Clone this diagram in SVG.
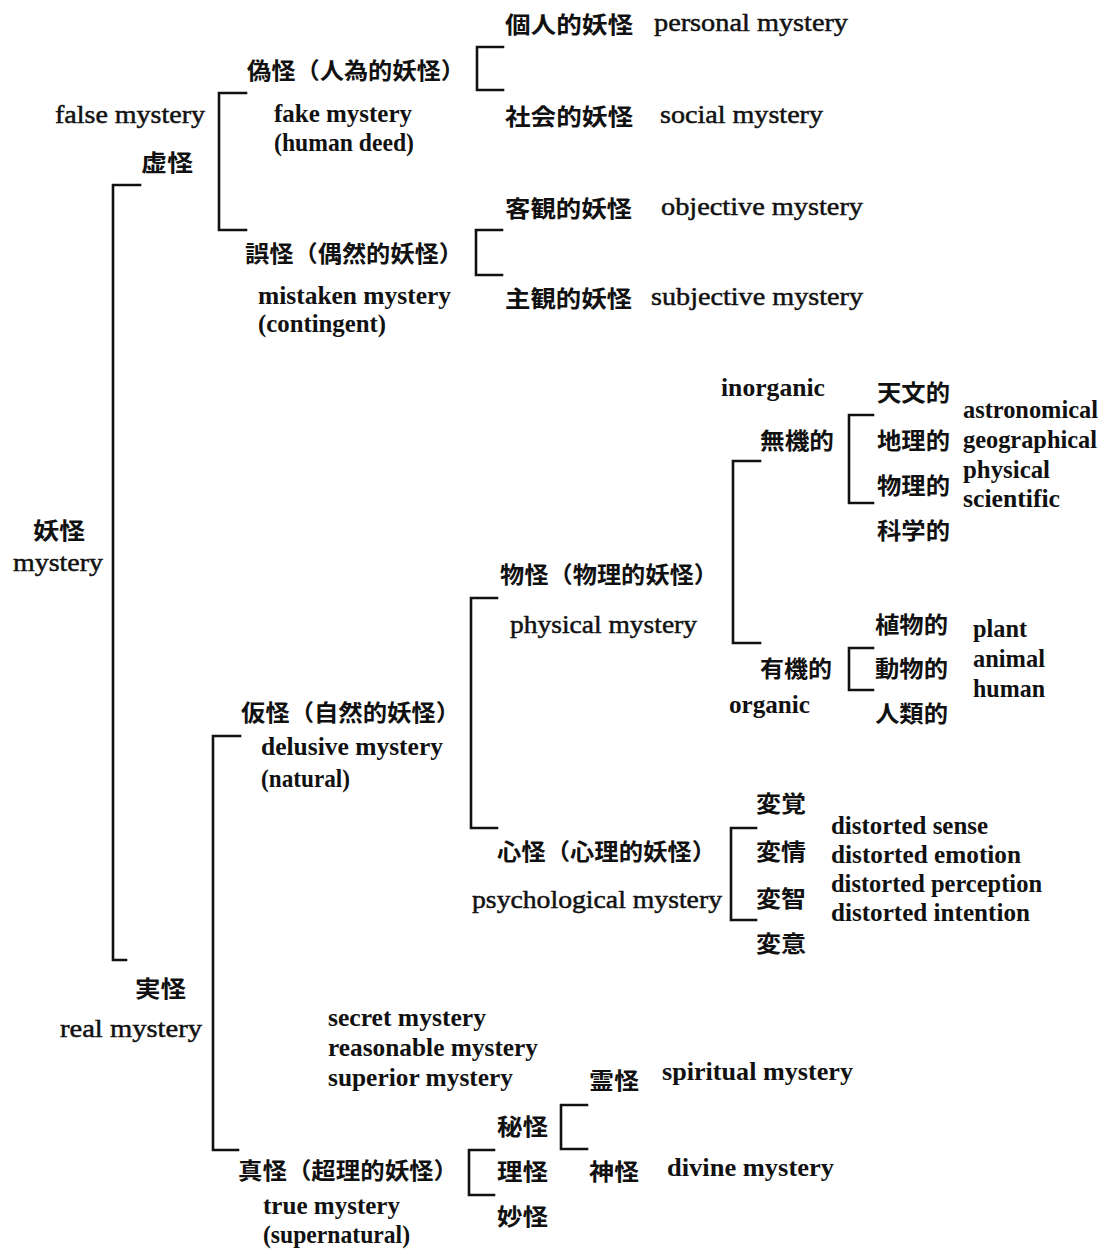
<svg xmlns="http://www.w3.org/2000/svg" width="1103" height="1250" viewBox="0 0 1103 1250">
<style>
.bg{fill:#ffffff}
.br{fill:none;stroke:#111;stroke-width:2.6;stroke-linejoin:miter;stroke-linecap:square}
.en{font-family:"Liberation Serif","Times New Roman",serif;font-size:26px;fill:#111;stroke:#111;stroke-width:0.5}
.enb{font-family:"Liberation Serif","Times New Roman",serif;font-size:25px;font-weight:bold;fill:#111}
.cj{font-family:"Noto Sans CJK JP","Noto Sans CJK SC",sans-serif;font-size:23px;font-weight:bold;fill:#111}
</style>
<rect class="bg" x="0" y="0" width="1103" height="1250"/>
<g id="connectors">
<path class="br" d="M140,185 H113 V960 H126"/>
<path class="br" d="M246,93 H219 V230 H246"/>
<path class="br" d="M503,47 H477 V90 H503"/>
<path class="br" d="M502,230 H476 V275 H502"/>
<path class="br" d="M240,736 H213 V1150 H238"/>
<path class="br" d="M497,598 H471 V828 H497"/>
<path class="br" d="M760,461 H733 V643 H760"/>
<path class="br" d="M873,415 H849 V503 H873"/>
<path class="br" d="M873,648 H849 V690 H873"/>
<path class="br" d="M756,828 H731 V920 H756"/>
<path class="br" d="M494,1150 H469 V1195 H494"/>
<path class="br" d="M587,1105 H561 V1149 H587"/>
</g>
<g id="n-root"><text class="cj" x="33" y="539" textLength="52" lengthAdjust="spacingAndGlyphs">妖怪</text><text class="en" x="13" y="571" textLength="90" lengthAdjust="spacingAndGlyphs">mystery</text></g>
<g id="n-false"><text class="en" x="55" y="123" textLength="150" lengthAdjust="spacingAndGlyphs">false mystery</text><text class="cj" x="141" y="171" textLength="52" lengthAdjust="spacingAndGlyphs">虚怪</text></g>
<g id="n-fake"><text class="cj" x="247" y="79" textLength="218" lengthAdjust="spacingAndGlyphs">偽怪（人為的妖怪）</text><text class="enb" x="274" y="122" textLength="138" lengthAdjust="spacingAndGlyphs">fake mystery</text><text class="enb" x="274" y="151" textLength="140" lengthAdjust="spacingAndGlyphs">(human deed)</text></g>
<g id="n-personal"><text class="cj" x="505" y="33" textLength="128" lengthAdjust="spacingAndGlyphs">個人的妖怪</text><text class="en" x="654" y="31" textLength="194" lengthAdjust="spacingAndGlyphs">personal mystery</text></g>
<g id="n-social"><text class="cj" x="505" y="125" textLength="128" lengthAdjust="spacingAndGlyphs">社会的妖怪</text><text class="en" x="660" y="123" textLength="163" lengthAdjust="spacingAndGlyphs">social mystery</text></g>
<g id="n-mistaken"><text class="cj" x="245" y="262" textLength="218" lengthAdjust="spacingAndGlyphs">誤怪（偶然的妖怪）</text><text class="enb" x="258" y="304" textLength="193" lengthAdjust="spacingAndGlyphs">mistaken mystery</text><text class="enb" x="258" y="332" textLength="128" lengthAdjust="spacingAndGlyphs">(contingent)</text></g>
<g id="n-objective"><text class="cj" x="505" y="217" textLength="127" lengthAdjust="spacingAndGlyphs">客観的妖怪</text><text class="en" x="661" y="215" textLength="202" lengthAdjust="spacingAndGlyphs">objective mystery</text></g>
<g id="n-subjective"><text class="cj" x="505" y="307" textLength="127" lengthAdjust="spacingAndGlyphs">主観的妖怪</text><text class="en" x="651" y="305" textLength="212" lengthAdjust="spacingAndGlyphs">subjective mystery</text></g>
<g id="n-real"><text class="cj" x="135" y="997" textLength="51" lengthAdjust="spacingAndGlyphs">実怪</text><text class="en" x="60" y="1037" textLength="142" lengthAdjust="spacingAndGlyphs">real mystery</text></g>
<g id="n-delusive"><text class="cj" x="241" y="721" textLength="219" lengthAdjust="spacingAndGlyphs">仮怪（自然的妖怪）</text><text class="enb" x="261" y="755" textLength="182" lengthAdjust="spacingAndGlyphs">delusive mystery</text><text class="enb" x="261" y="787" textLength="89" lengthAdjust="spacingAndGlyphs">(natural)</text></g>
<g id="n-physical"><text class="cj" x="500" y="583" textLength="218" lengthAdjust="spacingAndGlyphs">物怪（物理的妖怪）</text><text class="en" x="510" y="633" textLength="187" lengthAdjust="spacingAndGlyphs">physical mystery</text></g>
<g id="n-inorganic"><text class="enb" x="721" y="396" textLength="104" lengthAdjust="spacingAndGlyphs">inorganic</text><text class="cj" x="760" y="449" textLength="74" lengthAdjust="spacingAndGlyphs">無機的</text></g>
<g id="n-inorg-items"><text class="cj" x="877" y="401" textLength="73" lengthAdjust="spacingAndGlyphs">天文的</text><text class="cj" x="877" y="449" textLength="73" lengthAdjust="spacingAndGlyphs">地理的</text><text class="cj" x="877" y="494" textLength="73" lengthAdjust="spacingAndGlyphs">物理的</text><text class="cj" x="877" y="539" textLength="73" lengthAdjust="spacingAndGlyphs">科学的</text><text class="enb" x="963" y="418" textLength="135" lengthAdjust="spacingAndGlyphs">astronomical</text><text class="enb" x="963" y="448" textLength="134" lengthAdjust="spacingAndGlyphs">geographical</text><text class="enb" x="963" y="478" textLength="87" lengthAdjust="spacingAndGlyphs">physical</text><text class="enb" x="963" y="507" textLength="97" lengthAdjust="spacingAndGlyphs">scientific</text></g>
<g id="n-organic"><text class="cj" x="760" y="677" textLength="72" lengthAdjust="spacingAndGlyphs">有機的</text><text class="enb" x="729" y="713" textLength="81" lengthAdjust="spacingAndGlyphs">organic</text></g>
<g id="n-org-items"><text class="cj" x="875" y="633" textLength="73" lengthAdjust="spacingAndGlyphs">植物的</text><text class="cj" x="875" y="677" textLength="73" lengthAdjust="spacingAndGlyphs">動物的</text><text class="cj" x="875" y="722" textLength="73" lengthAdjust="spacingAndGlyphs">人類的</text><text class="enb" x="973" y="637" textLength="54" lengthAdjust="spacingAndGlyphs">plant</text><text class="enb" x="973" y="667" textLength="72" lengthAdjust="spacingAndGlyphs">animal</text><text class="enb" x="973" y="697" textLength="72" lengthAdjust="spacingAndGlyphs">human</text></g>
<g id="n-psych"><text class="cj" x="497" y="860" textLength="219" lengthAdjust="spacingAndGlyphs">心怪（心理的妖怪）</text><text class="en" x="472" y="908" textLength="250" lengthAdjust="spacingAndGlyphs">psychological mystery</text></g>
<g id="n-psych-items"><text class="cj" x="756" y="812" textLength="50" lengthAdjust="spacingAndGlyphs">変覚</text><text class="cj" x="756" y="860" textLength="50" lengthAdjust="spacingAndGlyphs">変情</text><text class="cj" x="756" y="907" textLength="50" lengthAdjust="spacingAndGlyphs">変智</text><text class="cj" x="756" y="952" textLength="50" lengthAdjust="spacingAndGlyphs">変意</text><text class="enb" x="831" y="834" textLength="157" lengthAdjust="spacingAndGlyphs">distorted sense</text><text class="enb" x="831" y="863" textLength="190" lengthAdjust="spacingAndGlyphs">distorted emotion</text><text class="enb" x="831" y="892" textLength="211" lengthAdjust="spacingAndGlyphs">distorted perception</text><text class="enb" x="831" y="921" textLength="199" lengthAdjust="spacingAndGlyphs">distorted intention</text></g>
<g id="n-true"><text class="cj" x="238" y="1179" textLength="220" lengthAdjust="spacingAndGlyphs">真怪（超理的妖怪）</text><text class="enb" x="263" y="1214" textLength="137" lengthAdjust="spacingAndGlyphs">true mystery</text><text class="enb" x="263" y="1243" textLength="147" lengthAdjust="spacingAndGlyphs">(supernatural)</text></g>
<g id="n-true-en"><text class="enb" x="328" y="1026" textLength="158" lengthAdjust="spacingAndGlyphs">secret mystery</text><text class="enb" x="328" y="1056" textLength="210" lengthAdjust="spacingAndGlyphs">reasonable mystery</text><text class="enb" x="328" y="1086" textLength="185" lengthAdjust="spacingAndGlyphs">superior mystery</text></g>
<g id="n-true-items"><text class="cj" x="497" y="1135" textLength="51" lengthAdjust="spacingAndGlyphs">秘怪</text><text class="cj" x="497" y="1180" textLength="51" lengthAdjust="spacingAndGlyphs">理怪</text><text class="cj" x="497" y="1225" textLength="51" lengthAdjust="spacingAndGlyphs">妙怪</text></g>
<g id="n-secret-items"><text class="cj" x="589" y="1089" textLength="50" lengthAdjust="spacingAndGlyphs">霊怪</text><text class="enb" x="662" y="1080" textLength="191" lengthAdjust="spacingAndGlyphs">spiritual mystery</text><text class="cj" x="589" y="1180" textLength="50" lengthAdjust="spacingAndGlyphs">神怪</text><text class="enb" x="667" y="1176" textLength="167" lengthAdjust="spacingAndGlyphs">divine mystery</text></g>
</svg>
